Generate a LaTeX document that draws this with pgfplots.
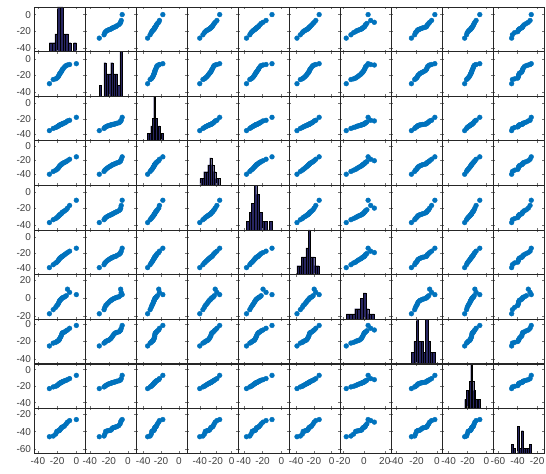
\documentclass[border=0pt]{standalone}
\usepackage{fontspec}
\setmainfont{Liberation Sans}
\usepackage{pgfplots}
\usepackage{pgfplotstable}
\pgfplotsset{compat=1.18}
\definecolor{dotblue}{RGB}{0,114,189}
\definecolor{histblue}{RGB}{40,38,98}
\pgfplotstableread{
v1 v2 v3 v4 v5 v6 v7 v8 v9 v10
-28 -30 -35 -40 -37 -39 -17 -25 -23 -46
-24 -25 -32.2 -36 -33.5 -35.2 -12.5 -21.8 -21.0 -45.2
-21.5 -24.2 -31.0 -34.2 -32.2 -33.0 -10.0 -21.0 -20.3 -43
-20.3 -23.3 -30.3 -33.1 -31.0 -32.0 -8.0 -20.0 -19.4 -39.8
-19.2 -22.2 -29.5 -31.8 -30.1 -30.6 -6.9 -19.4 -18.7 -39.5
-18.6 -21.1 -29.0 -30.6 -29.3 -29.5 -5.5 -18.9 -17.9 -39.1
-18.0 -19.8 -28.5 -29.5 -28.5 -28.4 -4.3 -18.4 -17.3 -38.8
-17.5 -18.7 -28.0 -28.6 -28.0 -27.6 -3.0 -17.3 -16.9 -38.5
-17.1 -17.6 -27.7 -27.8 -27.4 -26.9 -2.3 -16.4 -16.4 -38.2
-16.4 -16.8 -27.4 -27.0 -26.9 -26.2 -1.7 -15.0 -16.0 -37
-15.9 -16.1 -27.1 -26.3 -26.5 -25.7 -1.1 -14.1 -15.7 -35.8
-15.3 -15.0 -26.9 -25.7 -25.8 -25.2 -0.5 -12.3 -15.4 -35.4
-14.8 -13.8 -26.6 -25.2 -25.0 -24.7 0.1 -10.8 -15.1 -35.0
-14.3 -12.6 -26.0 -24.4 -24.3 -24.3 0.6 -10.2 -14.6 -34.6
-13.2 -11.4 -25.5 -23.6 -23.8 -23.2 1.1 -9.7 -14.0 -34.2
-12.0 -9.5 -25.0 -22.9 -22.6 -22.1 1.6 -9.2 -13.6 -33
-10.5 -8.2 -24.0 -21.8 -21.5 -20.8 2.8 -8.0 -12.9 -31
-9.2 -7.6 -22.6 -20.6 -19.5 -19.6 10 -7.1 -12.2 -29
-7.0 -7.0 -21.8 -18.5 -16.3 -17.8 6.5 -5.2 -10.9 -27.2
0 -6 -18 -15 -10 -14 4.0 -2 -7 -26
}\data
\begin{document}
\begin{tikzpicture}
\path[use as bounding box] (0,0) rectangle (546bp,474bp);
\foreach \i in {1,...,10}{
 \foreach \j in {1,...,10}{
   \pgfmathsetmacro\xlo{{-44,-45,-48,-56,-46,-48,-23,-45,-47,-65}[\j-1]}
   \pgfmathsetmacro\xhi{{9,8.5,9,8,8,9.5,26,5,7,-13}[\j-1]}
   \pgfmathsetmacro\ylo{{-44,-45,-48,-56,-46,-48,-23,-45,-47,-65}[\i-1]}
   \pgfmathsetmacro\yhi{{9,8.5,9,8,8,9.5,26,5,7,-13}[\i-1]}
   \pgfmathsetmacro\hm{{5,4,6,6.5,5,5,8.5,4,5,10}[\i-1]}
   \pgfmathsetmacro\dmin{{-28,-30,-35,-40,-37,-39,-17,-25,-23,-46}[\i-1]}
   \pgfmathsetmacro\dmax{{0,-6,-18,-15,-10,-14,10,-2,-7,-26}[\i-1]}
   \pgfmathsetmacro\px{34+(\j-1)*51}
   \pgfmathsetmacro\py{467-44.6*\i}
   \pgfmathtruncatemacro\xj{\j-1}
   \pgfmathtruncatemacro\yi{\i-1}
   \ifnum\i<10 \pgfplotsset{xticklabels={}}\fi
   \ifnum\j>1 \pgfplotsset{yticklabels={}}\fi
   \ifnum\i=\j
   \begin{axis}[at={(\px bp,\py bp)}, anchor=south west,
     width=51bp, height=44.6bp, scale only axis, hide axis,
     xmin=\xlo, xmax=\xhi, ymin=0, ymax=\hm, clip=true]
     \addplot[hist={bins=10, data min=\dmin, data max=\dmax}, fill=histblue, draw=black, line width=0.3bp] table[y index=\yi]{\data};
   \end{axis}
   \fi
   \begin{axis}[at={(\px bp,\py bp)}, anchor=south west,
     width=51bp, height=44.6bp, scale only axis,
     xmin=\xlo, xmax=\xhi, ymin=\ylo, ymax=\yhi,
     xtick={-60,-40,-20,0,20}, ytick={-60,-40,-20,0,20},
     tick align=inside, major tick length=2bp,
     tick style={black!55, line width=0.3bp},
     axis line style={black!85, line width=0.6bp},
     tick label style={font=\fontsize{10bp}{10bp}\selectfont, text=black!75},
     xticklabel style={yshift=-1bp},
     yticklabel style={xshift=0.5bp},
     /pgf/number format/assume math mode=true]
     \ifnum\i=\j\else
     \addplot[only marks, mark=*, mark size=2.4bp, color=dotblue, mark options={fill=dotblue, draw=dotblue}] table[x index=\xj, y index=\yi]{\data};
     \fi
   \end{axis}
 }
}
\end{tikzpicture}
\end{document}
